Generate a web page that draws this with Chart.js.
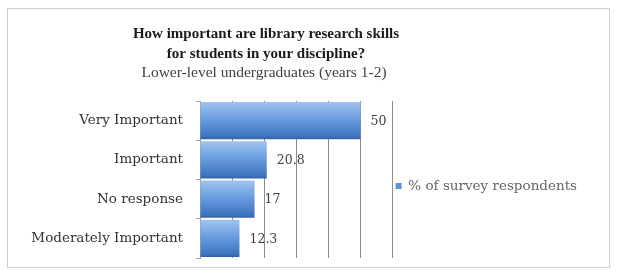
<!DOCTYPE html>
<html>
<head>
<meta charset="utf-8">
<script src="https://cdn.jsdelivr.net/npm/chart.js@4"></script>
<style>
  html, body { margin: 0; padding: 0; background: #fff; }
  #frame {
    position: absolute; left: 7px; top: 8px; width: 603px; height: 260px;
    border: 1px solid #cfcfcf; box-sizing: border-box; background: #fff;
  }
  #frame canvas { display: block; }
</style>
</head>
<body>
<div id="frame"><canvas id="chart" width="601" height="258"></canvas></div>
<script>
// values
const categories = ['Very Important', 'Important', 'No response', 'Moderately Important'];
const respondents = [50, 20.8, 17, 12.3];
const valueLabels = ['50', '20.8', '17', '12.3'];
const titleLines = ['How important are library research skills', 'for students in your discipline?'];
const subtitle = 'Lower-level undergraduates (years 1-2)';
const seriesName = '% of survey respondents';

const serif = '"DejaVu Serif", "Liberation Serif", serif';
const titleSerif = '"Liberation Serif", "DejaVu Serif", serif';

// vertical blue gradient for each bar
function barFill(context) {
  const chart = context.chart;
  const y = chart.scales.y;
  if (!y || context.dataIndex === undefined) return '#5b8fd3';
  const c = y.getPixelForValue(context.dataIndex);
  const h = 38;
  const g = chart.ctx.createLinearGradient(0, c - h / 2, 0, c + h / 2);
  g.addColorStop(0, '#a3c6ef');
  g.addColorStop(0.45, '#6a9de0');
  g.addColorStop(0.9, '#3f76c2');
  g.addColorStop(1, '#33619f');
  return g;
}

// titles drawn centred over the plot region like the original
const titlePlugin = {
  id: 'titles',
  afterDraw(chart) {
    const ctx = chart.ctx;
    ctx.save();
    ctx.textAlign = 'center';
    ctx.textBaseline = 'middle';
    ctx.fillStyle = '#1a1a1a';
    ctx.font = 'bold 15px ' + titleSerif;
    ctx.fillText(titleLines[0], 258, 25);
    ctx.fillText(titleLines[1], 258, 45);
    ctx.fillStyle = '#404040';
    ctx.font = '15.5px ' + titleSerif;
    ctx.fillText(subtitle, 256, 64);
    ctx.restore();
  }
};

// value labels to the right of each bar
const valuePlugin = {
  id: 'values',
  afterDatasetsDraw(chart) {
    const ctx = chart.ctx;
    const meta = chart.getDatasetMeta(0);
    ctx.save();
    ctx.font = '12.5px ' + serif;
    ctx.fillStyle = '#404040';
    ctx.textAlign = 'left';
    ctx.textBaseline = 'middle';
    meta.data.forEach((bar, i) => {
      ctx.fillText(valueLabels[i], bar.x + 10, bar.y + 1);
    });
    ctx.restore();
  }
};

new Chart(document.getElementById('chart'), {
  type: 'bar',
  data: {
    labels: categories,
    datasets: [{
      label: seriesName,
      data: respondents,
      backgroundColor: barFill,
      borderWidth: 0,
      categoryPercentage: 1,
      barPercentage: 0.95
    }]
  },
  options: {
    indexAxis: 'y',
    responsive: false,
    animation: false,
    layout: { padding: { top: 92, bottom: 9, left: 0, right: 22 } },
    scales: {
      x: {
        min: 0, max: 60,
        afterFit: scale => {
          scale.height = 0;
          scale.paddingLeft = 0; scale.paddingRight = 0;
          scale.paddingTop = 0; scale.paddingBottom = 0;
        },
        ticks: { display: false, stepSize: 10 },
        grid: { color: '#8c8c8c', drawTicks: false },
        border: { display: false }
      },
      y: {
        afterFit: scale => {
          scale.width = 192;
          scale.paddingTop = 0; scale.paddingBottom = 0;
        },
        ticks: { padding: 13, color: '#333', font: { family: serif, size: 13.5 } },
        grid: {
          display: true, drawOnChartArea: false, drawTicks: true,
          tickLength: 4, offset: true, color: '#a0a0a0'
        },
        border: { color: '#a0a0a0' }
      }
    },
    plugins: {
      legend: {
        position: 'right',
        maxWidth: 240,
        title: { display: true, text: ' ', font: { size: 1 }, padding: { top: 0, bottom: 12 } },
        labels: {
          boxWidth: 6, boxHeight: 6, padding: 3,
          color: '#4a4a4a',
          font: { family: serif, size: 13.5 },
          generateLabels: chart => [{
            text: seriesName, fillStyle: '#5e92d6', strokeStyle: '#5e92d6',
            lineWidth: 0, datasetIndex: 0
          }]
        }
      },
      tooltip: { enabled: false }
    }
  },
  plugins: [titlePlugin, valuePlugin]
});
</script>
</body>
</html>
